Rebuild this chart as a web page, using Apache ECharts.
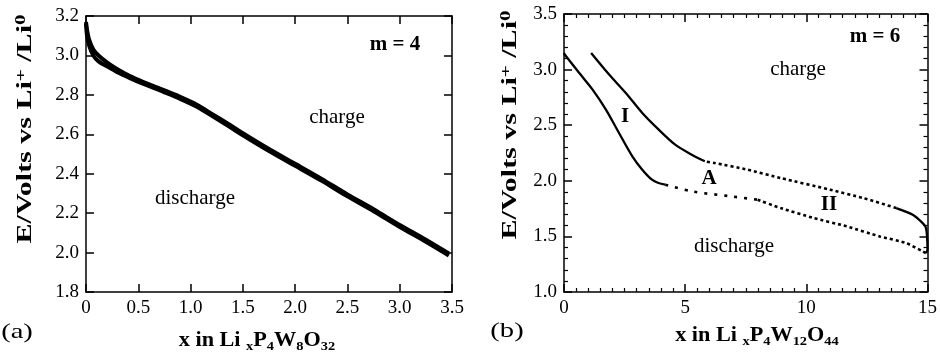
<!DOCTYPE html>
<html>
<head>
<meta charset="utf-8">
<script src="https://cdn.jsdelivr.net/npm/echarts@6/dist/echarts.min.js"></script>
<style>
  html, body { margin: 0; background: #fff; }
  #chart { width: 940px; height: 355px; }
</style>
</head>
<body>
<div id="chart"></div>
<script>
const SERIF = '"Liberation Serif", "DejaVu Serif", serif';

// panel (a): m = 4, LixP4W8O32
const aXRange = [0, 3.5, 0.5];
const aYRange = [1.8, 3.2, 0.2];
const aX = [0, 0.01, 0.03, 0.07, 0.12, 0.2, 0.3, 0.42, 0.55, 0.74, 0.9, 1.06, 1.2, 1.377, 1.5, 1.75, 2.0, 2.25, 2.5, 2.75, 3.0, 3.25, 3.47];
const aCharge = [3.17, 3.13, 3.08, 3.03, 3.0, 2.965, 2.93, 2.895, 2.865, 2.825, 2.79, 2.75, 2.705, 2.647, 2.605, 2.525, 2.45, 2.375, 2.295, 2.22, 2.14, 2.065, 1.995];
const aDischarge = [3.16, 3.1, 3.05, 3.0, 2.97, 2.945, 2.915, 2.885, 2.855, 2.815, 2.78, 2.74, 2.695, 2.637, 2.595, 2.515, 2.44, 2.365, 2.285, 2.21, 2.13, 2.055, 1.985];

// panel (b): m = 6, LixP4W12O44
const bXRange = [0, 15, 5];
const bYRange = [1.0, 3.5, 0.5];
// discharge (I, then dotted)
const bDisSolidX = [0, 0.03, 0.64, 1.18, 1.73, 2.27, 2.82, 3.23, 3.63, 3.9, 4.18];
const bDisSolidY = [3.15, 3.136, 2.967, 2.82, 2.64, 2.43, 2.22, 2.10, 2.01, 1.98, 1.965];
const bDisDotX = [4.18, 5.27, 6.9, 7.99];
const bDisDotY = [1.965, 1.905, 1.86, 1.83];
const bDisDot2X = [7.99, 8.94, 10.31, 11.67, 13.03, 14.12, 14.8, 14.93];
const bDisDot2Y = [1.83, 1.755, 1.665, 1.59, 1.50, 1.44, 1.365, 1.35];
// charge (rises at x ~ 15, dotted, then solid back to I)
const bChgEndX = [14.93, 15.0, 14.98, 14.93, 14.8, 14.39, 13.71];
const bChgEndY = [1.35, 1.38, 1.50, 1.58, 1.62, 1.695, 1.755];
const bChgDotX = [13.71, 12.35, 10.98, 8.94, 7.58, 6.22, 5.81];
const bChgDotY = [1.755, 1.845, 1.92, 2.025, 2.10, 2.16, 2.175];
const bChgSolidX = [5.81, 5.27, 4.59, 3.91, 3.23, 2.55, 1.87, 1.12];
const bChgSolidY = [2.175, 2.235, 2.325, 2.46, 2.61, 2.79, 2.954, 3.15];

const zip = (xs, ys) => xs.map((x, i) => [x, ys[i]]);

const chart = echarts.init(document.getElementById('chart'));

const black = { color: '#000', width: 1.5 };

function valueAxis(grid, range, position, showLabel, formatter, minorSplit) {
  return {
    type: 'value',
    gridIndex: grid,
    position: position,
    min: range[0],
    max: range[1],
    interval: range[2],
    axisLine: { show: true, onZero: false, lineStyle: black },
    axisTick: { show: true, inside: true, length: 8, lineStyle: black },
    minorTick: minorSplit
      ? { show: true, splitNumber: minorSplit, length: 4, lineStyle: { color: '#000', width: 1.2 } }
      : { show: false },
    splitLine: { show: false },
    axisLabel: {
      show: showLabel,
      color: '#000',
      fontFamily: SERIF,
      fontSize: 19,
      margin: 7,
      formatter: formatter,
    },
  };
}

const fmtA = (v) => (v === 0 ? '0' : v.toFixed(1));
const fmt1 = (v) => v.toFixed(1);
const fmt0 = (v) => String(Math.round(v));

function line(data, xi, yi, width, dash, smooth) {
  return {
    type: 'line',
    xAxisIndex: xi,
    yAxisIndex: yi,
    data: data,
    showSymbol: false,
    symbol: 'none',
    smooth: smooth || false,
    silent: true,
    animation: false,
    lineStyle: { color: '#000', width: width, type: dash || 'solid', cap: 'butt' },
  };
}

const titleRich = {
  b: { fontFamily: SERIF, fontSize: 20, fontWeight: 'bold', lineHeight: 24, color: '#000' },
  sup: { fontFamily: SERIF, fontSize: 14, fontWeight: 'bold', lineHeight: 10, verticalAlign: 'top', color: '#000' },
  sub: { fontFamily: SERIF, fontSize: 13, fontWeight: 'bold', lineHeight: 10, verticalAlign: 'bottom', color: '#000' },
};

function txt(x, y, text, size, bold, sx) {
  return {
    type: 'text',
    x: x,
    y: y,
    scaleX: sx || 1,
    silent: true,
    style: {
      text: text,
      fill: '#000',
      font: (bold ? 'bold ' : '') + size + 'px ' + SERIF,
      align: 'center',
      verticalAlign: 'middle',
    },
  };
}

// scaleX stretches along the text run (also for the rotated titles)
function richTxt(x, y, text, rotate, sx) {
  return {
    type: 'text',
    x: x,
    y: y,
    rotation: rotate || 0,
    scaleX: sx || 1,
    silent: true,
    style: { text: text, rich: titleRich, align: 'center', verticalAlign: 'middle' },
  };
}

chart.setOption({
  backgroundColor: '#fff',
  animation: false,
  grid: [
    { left: 86, top: 16, width: 366, height: 276 },
    { left: 564, top: 14, width: 367, height: 278 },
  ],
  xAxis: [
    valueAxis(0, aXRange, 'bottom', true, fmtA),
    valueAxis(0, aXRange, 'top', false, fmtA),
    valueAxis(1, bXRange, 'bottom', true, fmt0, 10),
    valueAxis(1, bXRange, 'top', false, fmt0, 10),
  ],
  yAxis: [
    valueAxis(0, aYRange, 'left', true, fmt1),
    valueAxis(0, aYRange, 'right', false, fmt1),
    valueAxis(1, bYRange, 'left', true, fmt1, 5),
    valueAxis(1, bYRange, 'right', false, fmt1, 5),
  ],
  series: [
    line(zip(aX, aCharge), 0, 0, 4, 'solid', 0.3),
    line(zip(aX, aDischarge), 0, 0, 4, 'solid', 0.3),
    line(zip(bDisSolidX, bDisSolidY), 2, 2, 2.3, 'solid', 0.3),
    line(zip(bDisDotX, bDisDotY), 2, 2, 2.6, [3, 7], 0.3),
    line(zip(bDisDot2X, bDisDot2Y), 2, 2, 2.6, [3, 3], 0.2),
    line(zip(bChgEndX, bChgEndY), 2, 2, 2.3, 'solid', 0.3),
    line(zip(bChgDotX, bChgDotY), 2, 2, 2.6, [3, 3], 0.2),
    line(zip(bChgSolidX, bChgSolidY), 2, 2, 2.3, 'solid', 0.3),
  ],
  graphic: [
    richTxt(26, 129, '{b|E/Volts vs Li}{sup|+}{b| /Li}{sup|0}', Math.PI / 2, 1.5),
    richTxt(257, 341, '{b|x in Li }{sub|x}{b|P}{sub|4}{b|W}{sub|8}{b|O}{sub|32}', 0, 1.11),
    txt(17, 332, '(a)', 22, false, 1.3),
    txt(395, 45, 'm = 4', 20, true, 1.05),
    txt(337, 117, 'charge', 21, false),
    txt(195, 198, 'discharge', 21, false),

    richTxt(511, 125, '{b|E/Volts vs Li}{sup|+}{b| /Li}{sup|0}', Math.PI / 2, 1.5),
    richTxt(757, 336, '{b|x in Li }{sub|x}{b|P}{sub|4}{b|W}{sub|12}{b|O}{sub|44}', 0, 1.11),
    txt(507, 331, '(b)', 22, false, 1.3),
    txt(875, 37, 'm = 6', 20, true, 1.05),
    txt(798, 69, 'charge', 21, false),
    txt(734, 246, 'discharge', 21, false),
    txt(625, 117, 'I', 21, true),
    txt(709, 179, 'A', 21, true),
    txt(829, 205, 'II', 21, true),
  ],
});
</script>
</body>
</html>
